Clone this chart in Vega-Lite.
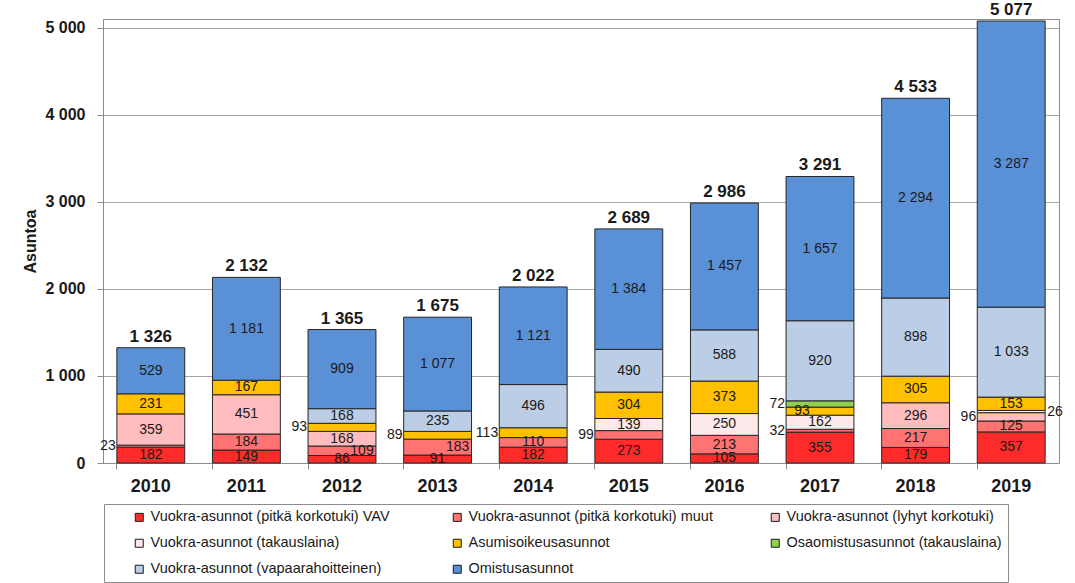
{
  "$schema": "https://vega.github.io/schema/vega-lite/v6.json",
  "width": 956,
  "height": 444,
  "autosize": {"type": "none"},
  "padding": {"left": 103, "top": 19, "right": 16, "bottom": 120},
  "background": "white",
  "config": {
    "locale": {"number": {"decimal": ",", "thousands": " ", "grouping": [3], "currency": ["", " €"]}},
    "view": {"stroke": "#8c8c8c", "strokeWidth": 1},
    "font": "Liberation Sans"
  },
  "datasets": {
    "cats": [
      {"cat": "Vuokra-asunnot (pitkä korkotuki) VAV", "k": 1},
      {"cat": "Vuokra-asunnot (pitkä korkotuki) muut", "k": 2},
      {"cat": "Vuokra-asunnot (lyhyt korkotuki)", "k": 3},
      {"cat": "Vuokra-asunnot (takauslaina)", "k": 4},
      {"cat": "Asumisoikeusasunnot", "k": 5},
      {"cat": "Osaomistusasunnot (takauslaina)", "k": 6},
      {"cat": "Vuokra-asunnot (vapaarahoitteinen)", "k": 7},
      {"cat": "Omistusasunnot", "k": 8}
    ],
    "totals": [
      {"year": "2010", "total": 1326},
      {"year": "2011", "total": 2132},
      {"year": "2012", "total": 1365},
      {"year": "2013", "total": 1675},
      {"year": "2014", "total": 2022},
      {"year": "2015", "total": 2689},
      {"year": "2016", "total": 2986},
      {"year": "2017", "total": 3291},
      {"year": "2018", "total": 4533},
      {"year": "2019", "total": 5077}
    ],
    "rows": [
      {"year": "2010", "cat": "Vuokra-asunnot (pitkä korkotuki) VAV", "n": 182},
      {"year": "2010", "cat": "Vuokra-asunnot (pitkä korkotuki) muut", "n": 23, "p": "L"},
      {"year": "2010", "cat": "Vuokra-asunnot (lyhyt korkotuki)", "n": 359},
      {"year": "2010", "cat": "Asumisoikeusasunnot", "n": 231},
      {"year": "2010", "cat": "Omistusasunnot", "n": 529},
      {"year": "2011", "cat": "Vuokra-asunnot (pitkä korkotuki) VAV", "n": 149},
      {"year": "2011", "cat": "Vuokra-asunnot (pitkä korkotuki) muut", "n": 184},
      {"year": "2011", "cat": "Vuokra-asunnot (lyhyt korkotuki)", "n": 451},
      {"year": "2011", "cat": "Asumisoikeusasunnot", "n": 167},
      {"year": "2011", "cat": "Omistusasunnot", "n": 1181},
      {"year": "2012", "cat": "Vuokra-asunnot (pitkä korkotuki) VAV", "n": 86},
      {"year": "2012", "cat": "Vuokra-asunnot (pitkä korkotuki) muut", "n": 109, "p": "CR"},
      {"year": "2012", "cat": "Vuokra-asunnot (lyhyt korkotuki)", "n": 168},
      {"year": "2012", "cat": "Asumisoikeusasunnot", "n": 93, "p": "L"},
      {"year": "2012", "cat": "Vuokra-asunnot (vapaarahoitteinen)", "n": 168},
      {"year": "2012", "cat": "Omistusasunnot", "n": 909},
      {"year": "2013", "cat": "Vuokra-asunnot (pitkä korkotuki) VAV", "n": 91},
      {"year": "2013", "cat": "Vuokra-asunnot (pitkä korkotuki) muut", "n": 183, "p": "CR"},
      {"year": "2013", "cat": "Asumisoikeusasunnot", "n": 89, "p": "L"},
      {"year": "2013", "cat": "Vuokra-asunnot (vapaarahoitteinen)", "n": 235},
      {"year": "2013", "cat": "Omistusasunnot", "n": 1077},
      {"year": "2014", "cat": "Vuokra-asunnot (pitkä korkotuki) VAV", "n": 182},
      {"year": "2014", "cat": "Vuokra-asunnot (pitkä korkotuki) muut", "n": 110},
      {"year": "2014", "cat": "Asumisoikeusasunnot", "n": 113, "p": "L"},
      {"year": "2014", "cat": "Vuokra-asunnot (vapaarahoitteinen)", "n": 496},
      {"year": "2014", "cat": "Omistusasunnot", "n": 1121},
      {"year": "2015", "cat": "Vuokra-asunnot (pitkä korkotuki) VAV", "n": 273},
      {"year": "2015", "cat": "Vuokra-asunnot (pitkä korkotuki) muut", "n": 99, "p": "L"},
      {"year": "2015", "cat": "Vuokra-asunnot (takauslaina)", "n": 139},
      {"year": "2015", "cat": "Asumisoikeusasunnot", "n": 304},
      {"year": "2015", "cat": "Vuokra-asunnot (vapaarahoitteinen)", "n": 490},
      {"year": "2015", "cat": "Omistusasunnot", "n": 1384},
      {"year": "2016", "cat": "Vuokra-asunnot (pitkä korkotuki) VAV", "n": 105},
      {"year": "2016", "cat": "Vuokra-asunnot (pitkä korkotuki) muut", "n": 213},
      {"year": "2016", "cat": "Vuokra-asunnot (takauslaina)", "n": 250},
      {"year": "2016", "cat": "Asumisoikeusasunnot", "n": 373},
      {"year": "2016", "cat": "Vuokra-asunnot (vapaarahoitteinen)", "n": 588},
      {"year": "2016", "cat": "Omistusasunnot", "n": 1457},
      {"year": "2017", "cat": "Vuokra-asunnot (pitkä korkotuki) VAV", "n": 355},
      {"year": "2017", "cat": "Vuokra-asunnot (pitkä korkotuki) muut", "n": 32, "p": "L"},
      {"year": "2017", "cat": "Vuokra-asunnot (takauslaina)", "n": 162},
      {"year": "2017", "cat": "Asumisoikeusasunnot", "n": 93, "p": "CL"},
      {"year": "2017", "cat": "Osaomistusasunnot (takauslaina)", "n": 72, "p": "L"},
      {"year": "2017", "cat": "Vuokra-asunnot (vapaarahoitteinen)", "n": 920},
      {"year": "2017", "cat": "Omistusasunnot", "n": 1657},
      {"year": "2018", "cat": "Vuokra-asunnot (pitkä korkotuki) VAV", "n": 179},
      {"year": "2018", "cat": "Vuokra-asunnot (pitkä korkotuki) muut", "n": 217},
      {"year": "2018", "cat": "Vuokra-asunnot (lyhyt korkotuki)", "n": 296},
      {"year": "2018", "cat": "Asumisoikeusasunnot", "n": 305},
      {"year": "2018", "cat": "Vuokra-asunnot (vapaarahoitteinen)", "n": 898},
      {"year": "2018", "cat": "Omistusasunnot", "n": 2294},
      {"year": "2019", "cat": "Vuokra-asunnot (pitkä korkotuki) VAV", "n": 357},
      {"year": "2019", "cat": "Vuokra-asunnot (pitkä korkotuki) muut", "n": 125},
      {"year": "2019", "cat": "Vuokra-asunnot (lyhyt korkotuki)", "n": 96, "p": "L"},
      {"year": "2019", "cat": "Vuokra-asunnot (takauslaina)", "n": 26, "p": "R"},
      {"year": "2019", "cat": "Asumisoikeusasunnot", "n": 153},
      {"year": "2019", "cat": "Vuokra-asunnot (vapaarahoitteinen)", "n": 1033},
      {"year": "2019", "cat": "Omistusasunnot", "n": 3287}
    ]
  },
  "data": {"name": "rows"},
  "transform": [
    {"lookup": "cat", "from": {"data": {"name": "cats"}, "key": "cat", "fields": ["k"]}},
    {"stack": "n", "groupby": ["year"], "sort": [{"field": "k", "order": "ascending"}], "as": ["v0", "v1"]},
    {"calculate": "(datum.v0 + datum.v1) / 2", "as": "mid"}
  ],
  "resolve": {"axis": {"x": "independent"}},
  "layer": [
    {
      "mark": {"type": "bar", "stroke": "#262626", "strokeWidth": 1},
      "encoding": {
        "x": {
          "field": "year", "type": "nominal",
          "scale": {"paddingInner": 0.29, "paddingOuter": 0.145},
          "axis": {"title": null, "ticks": false, "labelAngle": 0, "labelFont": "Liberation Sans", "labelFontWeight": "bold", "labelFontSize": 18, "labelColor": "#1a1a1a", "labelPadding": 14, "domainColor": "#8c8c8c", "grid": false}
        },
        "y": {
          "field": "v0", "type": "quantitative",
          "scale": {"domain": [0, 5100], "nice": false},
          "axis": {"title": "Asuntoa", "values": [0, 1000, 2000, 3000, 4000, 5000], "format": ",d", "labelFont": "Liberation Sans", "labelFontWeight": "bold", "labelFontSize": 16, "labelColor": "#1a1a1a", "labelPadding": 12, "tickSize": 6, "tickColor": "#8c8c8c", "domainColor": "#8c8c8c", "gridColor": "#a6a6a6", "titleFont": "Liberation Sans", "titleFontSize": 16, "titleFontWeight": "bold", "titleColor": "#1a1a1a", "titlePadding": 6}
        },
        "y2": {"field": "v1"},
        "color": {
          "field": "cat", "type": "nominal",
          "scale": {
            "domain": ["Vuokra-asunnot (pitkä korkotuki) VAV", "Vuokra-asunnot (pitkä korkotuki) muut", "Vuokra-asunnot (lyhyt korkotuki)", "Vuokra-asunnot (takauslaina)", "Asumisoikeusasunnot", "Osaomistusasunnot (takauslaina)", "Vuokra-asunnot (vapaarahoitteinen)", "Omistusasunnot"],
            "range": ["#ff2b2b", "#ff7373", "#ffbdbf", "#fde9e9", "#ffc000", "#92d050", "#bccde6", "#5a90d5"]
          },
          "legend": {"orient": "none", "legendX": 1, "legendY": 485, "direction": "horizontal", "columns": 3, "gridAlign": "all", "columnPadding": 55, "rowPadding": 11, "symbolType": "square", "symbolSize": 64, "symbolStrokeColor": "#1a1a1a", "symbolStrokeWidth": 1, "symbolOpacity": 1, "labelFont": "Liberation Sans", "labelFontSize": 14.5, "labelColor": "#1a1a1a", "labelLimit": 400, "labelOffset": 4, "strokeColor": "#8c8c8c", "fillColor": "white", "padding": 6, "title": " ", "titleOrient": "left", "titlePadding": 22}
        }
      }
    },
    {
      "transform": [{"filter": "!isValid(datum.p)"}],
      "mark": {"type": "text", "font": "Liberation Sans", "fontSize": 14, "color": "#1a1a1a", "baseline": "middle", "align": "center"},
      "encoding": {
        "x": {"field": "year", "type": "nominal", "axis": null},
        "y": {"field": "mid", "type": "quantitative"},
        "text": {"field": "n", "type": "quantitative", "format": ",d"}
      }
    },
    {
      "transform": [{"filter": "datum.p === 'L'"}],
      "mark": {"type": "text", "font": "Liberation Sans", "fontSize": 14, "color": "#1a1a1a", "baseline": "middle", "align": "right", "dx": -35},
      "encoding": {
        "x": {"field": "year", "type": "nominal", "axis": null},
        "y": {"field": "mid", "type": "quantitative"},
        "text": {"field": "n", "type": "quantitative", "format": ",d"}
      }
    },
    {
      "transform": [{"filter": "datum.p === 'R'"}],
      "mark": {"type": "text", "font": "Liberation Sans", "fontSize": 14, "color": "#1a1a1a", "baseline": "middle", "align": "left", "dx": 36},
      "encoding": {
        "x": {"field": "year", "type": "nominal", "axis": null},
        "y": {"field": "mid", "type": "quantitative"},
        "text": {"field": "n", "type": "quantitative", "format": ",d"}
      }
    },
    {
      "transform": [{"filter": "datum.p === 'CR'"}],
      "mark": {"type": "text", "font": "Liberation Sans", "fontSize": 14, "color": "#1a1a1a", "baseline": "middle", "align": "center", "dx": 20},
      "encoding": {
        "x": {"field": "year", "type": "nominal", "axis": null},
        "y": {"field": "mid", "type": "quantitative"},
        "text": {"field": "n", "type": "quantitative", "format": ",d"}
      }
    },
    {
      "transform": [{"filter": "datum.p === 'CL'"}],
      "mark": {"type": "text", "font": "Liberation Sans", "fontSize": 14, "color": "#1a1a1a", "baseline": "middle", "align": "center", "dx": -18},
      "encoding": {
        "x": {"field": "year", "type": "nominal", "axis": null},
        "y": {"field": "mid", "type": "quantitative"},
        "text": {"field": "n", "type": "quantitative", "format": ",d"}
      }
    },
    {
      "transform": [
        {"aggregate": [{"op": "max", "field": "v1", "as": "top"}], "groupby": ["year"]},
        {"lookup": "year", "from": {"data": {"name": "totals"}, "key": "year", "fields": ["total"]}}
      ],
      "mark": {"type": "text", "font": "Liberation Sans", "fontSize": 17, "fontWeight": "bold", "color": "#1a1a1a", "baseline": "middle", "align": "center", "dy": -11},
      "encoding": {
        "x": {"field": "year", "type": "nominal", "axis": {"orient": "bottom", "bandPosition": 0, "labels": false, "domain": false, "grid": false, "ticks": true, "tickSize": 6, "tickColor": "#8c8c8c", "title": null}},
        "y": {"field": "top", "type": "quantitative"},
        "text": {"field": "total", "type": "quantitative", "format": ",d"}
      }
    }
  ]
}
